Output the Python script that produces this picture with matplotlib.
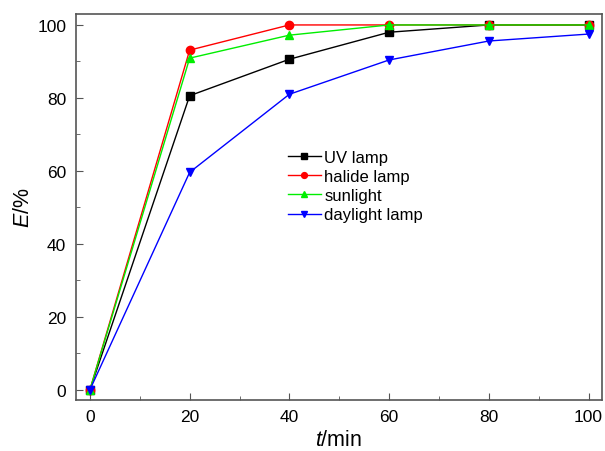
import matplotlib
matplotlib.use("Agg")
import matplotlib.pyplot as plt
from matplotlib.ticker import MultipleLocator

plt.rcParams['font.family'] = ['Liberation Sans', 'DejaVu Sans']
plt.rcParams['mathtext.fontset'] = 'custom'
plt.rcParams['mathtext.it'] = 'Liberation Sans:italic'
plt.rcParams['mathtext.rm'] = 'Liberation Sans'

t = [0, 20, 40, 60, 80, 100]
uv_lamp = [0, 80.6, 90.6, 98.0, 100, 100]
halide_lamp = [0, 93.1, 100, 100, 100, 100]
sunlight = [0, 90.9, 97.2, 100, 100, 100]
daylight_lamp = [0, 59.6, 81.0, 90.4, 95.6, 97.5]

fig = plt.figure(figsize=(6.05, 4.52), dpi=100)
ax = fig.add_axes([0.1256, 0.1135, 0.8694, 0.8533])

ax.plot(t, uv_lamp, '-s', color='black', lw=1, ms=6, label='UV lamp')
ax.plot(t, halide_lamp, '-o', color='red', lw=1, ms=6, label='halide lamp')
ax.plot(t, sunlight, '-^', color='#00ee00', lw=1, ms=6, label='sunlight')
ax.plot(t, daylight_lamp, '-v', color='blue', lw=1, ms=6, label='daylight lamp')

ax.set_xlim(-2.8, 102.7)
ax.set_ylim(-2.74, 103)
ax.xaxis.set_major_locator(MultipleLocator(20))
ax.xaxis.set_minor_locator(MultipleLocator(10))
ax.yaxis.set_major_locator(MultipleLocator(20))
ax.yaxis.set_minor_locator(MultipleLocator(10))
ax.tick_params(which='both', direction='in', labelsize=12.5, color='#555555', pad=7)
ax.tick_params(which='major', length=5)
ax.tick_params(which='minor', length=3)
for s in ax.spines.values():
    s.set_color('#555555')
    s.set_linewidth(1.2)

ax.set_xlabel('$\\mathit{t}$/min', fontsize=15.5, labelpad=3)
ax.set_ylabel('$\\mathit{E}$/%', fontsize=15.5, labelpad=2)

ax.legend(loc='upper left', bbox_to_anchor=(0.39, 0.665), frameon=False,
          fontsize=12, handlelength=2.0, handletextpad=0.2, labelspacing=0.25,
          borderaxespad=0, markerscale=0.7)

plt.savefig('out.png', dpi=100)
